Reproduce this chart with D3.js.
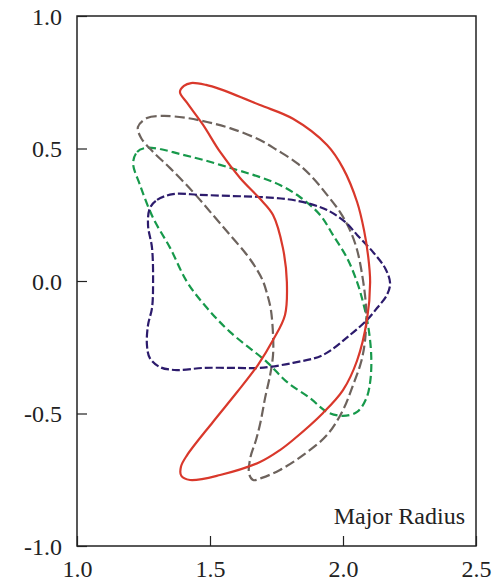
<!DOCTYPE html>
<html>
<head>
<meta charset="utf-8">
<script src="https://cdn.jsdelivr.net/npm/d3@7"></script>
<style>
  body { margin: 0; background: #fff; }
  text { font-family: "Liberation Serif", "DejaVu Serif", serif; fill: #222; }
</style>
</head>
<body>
<svg id="chart" width="499" height="583"></svg>
<script>
// axis ticks
var xTicks = [1.0, 1.5, 2.0, 2.5];
var yTicks = [1.0, 0.5, 0.0, -0.5, -1.0];

// boundary shapes, [R, Z]
var redShape = [
  [1.387, 0.713], [1.402, 0.736], [1.429, 0.747], [1.485, 0.740], [1.538, 0.724],
  [1.688, 0.664], [1.812, 0.612], [1.940, 0.513], [2.000, 0.426], [2.053, 0.298],
  [2.079, 0.192], [2.094, 0.098], [2.102, -0.004], [2.090, -0.147], [2.053, -0.300],
  [2.000, -0.412], [1.925, -0.498], [1.812, -0.600], [1.763, -0.638], [1.688, -0.683],
  [1.538, -0.732], [1.425, -0.751], [1.392, -0.735], [1.391, -0.700], [1.414, -0.657],
  [1.511, -0.532], [1.602, -0.419], [1.680, -0.317], [1.737, -0.223], [1.782, -0.128],
  [1.789, -0.004], [1.774, 0.125], [1.737, 0.249], [1.688, 0.310], [1.613, 0.389],
  [1.538, 0.487], [1.474, 0.589], [1.414, 0.672]
];
var grayShape = [
  [1.229, 0.581], [1.263, 0.615], [1.323, 0.623], [1.414, 0.615], [1.489, 0.600],
  [1.575, 0.577], [1.688, 0.532], [1.752, 0.494], [1.827, 0.445], [1.887, 0.389],
  [1.940, 0.325], [1.989, 0.260], [2.026, 0.192], [2.053, 0.117], [2.075, 0.004],
  [2.087, -0.109], [2.083, -0.223], [2.068, -0.306], [2.038, -0.392], [2.000, -0.487],
  [1.940, -0.581], [1.850, -0.657], [1.763, -0.713], [1.695, -0.743], [1.662, -0.751],
  [1.647, -0.728], [1.652, -0.665], [1.673, -0.600], [1.690, -0.532], [1.707, -0.442],
  [1.726, -0.355], [1.737, -0.279], [1.737, -0.204], [1.729, -0.109], [1.716, -0.053],
  [1.699, 0.000], [1.677, 0.042], [1.639, 0.098], [1.575, 0.174], [1.511, 0.249],
  [1.436, 0.336], [1.350, 0.426], [1.286, 0.487], [1.241, 0.540]
];
var greenShape = [
  [1.211, 0.445], [1.226, 0.487], [1.256, 0.502], [1.312, 0.498], [1.387, 0.479],
  [1.474, 0.457], [1.602, 0.419], [1.688, 0.392], [1.763, 0.362], [1.838, 0.317],
  [1.914, 0.249], [1.962, 0.174], [2.015, 0.087], [2.053, -0.004], [2.075, -0.079],
  [2.094, -0.166], [2.106, -0.279], [2.103, -0.374], [2.088, -0.442], [2.053, -0.494],
  [2.000, -0.509], [1.940, -0.494], [1.876, -0.442], [1.789, -0.381], [1.714, -0.306],
  [1.575, -0.192], [1.489, -0.102], [1.414, -0.004], [1.350, 0.125], [1.286, 0.238],
  [1.237, 0.362]
];
var navyShape = [
  [1.274, 0.275], [1.301, 0.306], [1.361, 0.328], [1.462, 0.325], [1.575, 0.321],
  [1.688, 0.317], [1.789, 0.309], [1.865, 0.294], [1.940, 0.268], [2.008, 0.223],
  [2.053, 0.174], [2.113, 0.109], [2.158, 0.049], [2.177, -0.008], [2.165, -0.053],
  [2.128, -0.102], [2.090, -0.147], [2.026, -0.204], [1.925, -0.279], [1.812, -0.309],
  [1.688, -0.328], [1.602, -0.328], [1.474, -0.328], [1.376, -0.336], [1.312, -0.325],
  [1.274, -0.291], [1.263, -0.242], [1.267, -0.166], [1.282, -0.102], [1.286, -0.004],
  [1.282, 0.125], [1.267, 0.211]
];

var margin = { left: 77, top: 16, right: 23, bottom: 37 };
var width = 499, height = 583;

var svg = d3.select("#chart");

var x = d3.scaleLinear().domain([1.0, 2.5]).range([margin.left, width - margin.right]);
var y = d3.scaleLinear().domain([-1.0, 1.0]).range([height - margin.bottom, margin.top]);

var line = d3.line()
    .x(function (d) { return x(d[0]); })
    .y(function (d) { return y(d[1]); })
    .curve(d3.curveCatmullRomClosed.alpha(0.5));

var shapes = [
  { data: greenShape, color: "#17994b", dash: "8,4" },
  { data: grayShape, color: "#6d635d", dash: "10,4" },
  { data: navyShape, color: "#2c1b6c", dash: "8,3" },
  { data: redShape, color: "#d9382b", dash: null }
];

svg.selectAll("path.shape")
    .data(shapes)
    .enter()
    .append("path")
    .attr("class", "shape")
    .attr("d", function (d) { return line(d.data); })
    .attr("fill", "none")
    .attr("stroke", function (d) { return d.color; })
    .attr("stroke-width", 2.2)
    .attr("stroke-dasharray", function (d) { return d.dash; });

// frame
svg.append("rect")
    .attr("x", x(1.0))
    .attr("y", y(1.0))
    .attr("width", x(2.5) - x(1.0))
    .attr("height", y(-1.0) - y(1.0))
    .attr("fill", "none")
    .attr("stroke", "#222")
    .attr("stroke-width", 1.5);

var fmt = function (d) { return d3.format(".1f")(d).replace("\u2212", "-"); };

// inward ticks + labels
var xAxis = d3.axisBottom(x).tickValues(xTicks).tickSizeInner(-10).tickSizeOuter(0)
    .tickFormat(fmt);
var gx = svg.append("g").attr("transform", "translate(0," + y(-1.0) + ")").call(xAxis);
gx.select(".domain").remove();
gx.selectAll("line").attr("stroke", "#222").attr("stroke-width", 1.2);
gx.selectAll("text").attr("dy", 0).attr("y", 31).style("font-size", "24px").attr("fill", "#222");

var yAxis = d3.axisLeft(y).tickValues(yTicks).tickSizeInner(-10).tickSizeOuter(0)
    .tickFormat(fmt);
var gy = svg.append("g").attr("transform", "translate(" + x(1.0) + ",0)").call(yAxis);
gy.select(".domain").remove();
gy.selectAll("line").attr("stroke", "#222").attr("stroke-width", 1.2);
gy.selectAll("text").attr("x", -15).attr("dy", "0.34em").style("font-size", "24px").attr("fill", "#222");

svg.append("text")
    .attr("x", x(2.5) - 11)
    .attr("y", y(-1.0) - 22)
    .attr("text-anchor", "end")
    .style("font-size", "24px")
    .text("Major Radius");
</script>
</body>
</html>
